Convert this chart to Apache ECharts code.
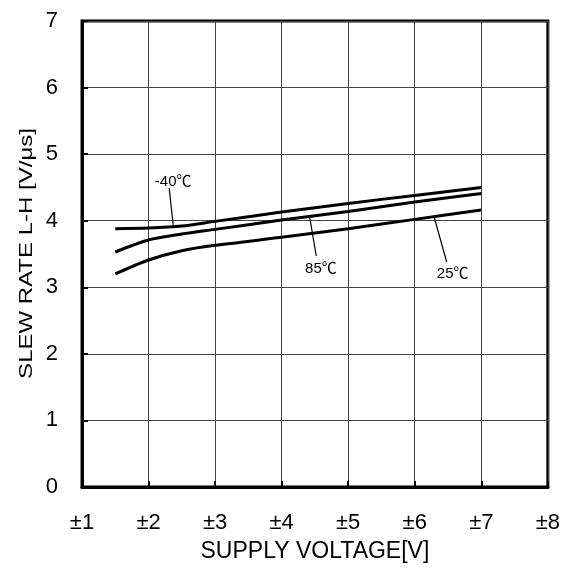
<!DOCTYPE html>
<html><head><meta charset="utf-8">
<script src="https://cdn.jsdelivr.net/npm/echarts@6/dist/echarts.min.js"></script>
<style>html,body{margin:0;padding:0;background:#fff}#c{width:563px;height:568px}</style>
</head><body><div id="c"></div>
<script>
const voltage = [1.5, 2, 2.5, 3, 4, 5, 6, 7];
const slewM40 = [3.88, 3.89, 3.92, 3.99, 4.13, 4.26, 4.38, 4.50];
const slew85  = [3.53, 3.71, 3.80, 3.87, 4.01, 4.14, 4.28, 4.41];
const slew25  = [3.20, 3.41, 3.55, 3.63, 3.75, 3.88, 4.02, 4.16];
const xTicks = [1, 2, 3, 4, 5, 6, 7, 8];
const xTitle = 'SUPPLY VOLTAGE[V]';
const yTitle = 'SLEW RATE L-H [V/μs]';
// annotation leaders (data coords) and text anchors (data coords)
const annTexts = ['-40℃', '85℃', '25℃'];
const annFrom = [[2.31, 4.49], [4.42, 4.06], [6.29, 4.06]];
const annTo   = [[2.37, 3.94], [4.52, 3.47], [6.48, 3.38]];
const annAt   = [[2.37, 4.58], [4.59, 3.27], [6.57, 3.20]];
const font = "'Liberation Sans', Arial, 'Noto Sans CJK JP', sans-serif";
function pts(ys){ return voltage.map((v,i)=>[v, ys[i]]); }
const chart = echarts.init(document.getElementById('c'));
const lineSeries = (name, ys) => ({
  name, type: 'line', data: pts(ys), smooth: 0.3, symbol: 'none',
  lineStyle: {color: '#000', width: 3}, z: 5
});
chart.setOption({
  animation: false,
  grid: {left: 82, right: 15, top: 21, bottom: 81, show: true, borderColor: '#000', borderWidth: 3, backgroundColor: 'transparent'},
  graphic: [{
    type: 'text', x: 27, y: 253.5, rotation: Math.PI / 2, scaleY: 0.8,
    style: {text: yTitle, font: "24px 'Liberation Sans', Arial, sans-serif", fill: '#000',
            align: 'center', verticalAlign: 'middle', textAlign: 'center', textVerticalAlign: 'middle'}
  }],
  xAxis: {
    type: 'value', min: 1, max: 8, interval: 1,
    name: xTitle, nameLocation: 'middle', nameGap: 53,
    nameTextStyle: {fontFamily: font, fontSize: 23, color: '#000'},
    axisLine: {show: true, lineStyle: {color: '#000', width: 3}},
    axisTick: {show: true, inside: true, length: 6, lineStyle: {color: '#000', width: 2}},
    axisLabel: {formatter: v => xTicks.includes(v) ? '±' + v : '', fontFamily: font, fontSize: 22, color: '#000', margin: 25},
    splitLine: {show: true, lineStyle: {color: '#444', width: 1}}
  },
  yAxis: {
    type: 'value', min: 0, max: 7, interval: 1,
    axisLine: {show: true, lineStyle: {color: '#000', width: 3}},
    axisTick: {show: true, inside: true, length: 6, lineStyle: {color: '#000', width: 2}},
    axisLabel: {fontFamily: font, fontSize: 22, color: '#000', margin: 24},
    splitLine: {show: true, lineStyle: {color: '#444', width: 1}}
  },
  series: [
    lineSeries('-40℃', slewM40),
    lineSeries('85℃', slew85),
    lineSeries('25℃', slew25),
    {
      type: 'line', data: [], silent: true,
      markLine: {
        silent: true, symbol: ['none', 'none'], animation: false,
        lineStyle: {color: '#000', width: 1.2, type: 'solid'},
        label: {show: false},
        data: annFrom.map((f, i) => [{coord: f}, {coord: annTo[i]}])
      },
      markPoint: {
        silent: true, symbol: 'circle', symbolSize: 0, animation: false,
        itemStyle: {color: 'transparent'},
        label: {show: true, position: 'inside', fontFamily: font, fontSize: 15, color: '#000', formatter: p => p.name},
        data: annAt.map((c, i) => ({name: annTexts[i], coord: c}))
      }
    }
  ]
});
</script></body></html>
